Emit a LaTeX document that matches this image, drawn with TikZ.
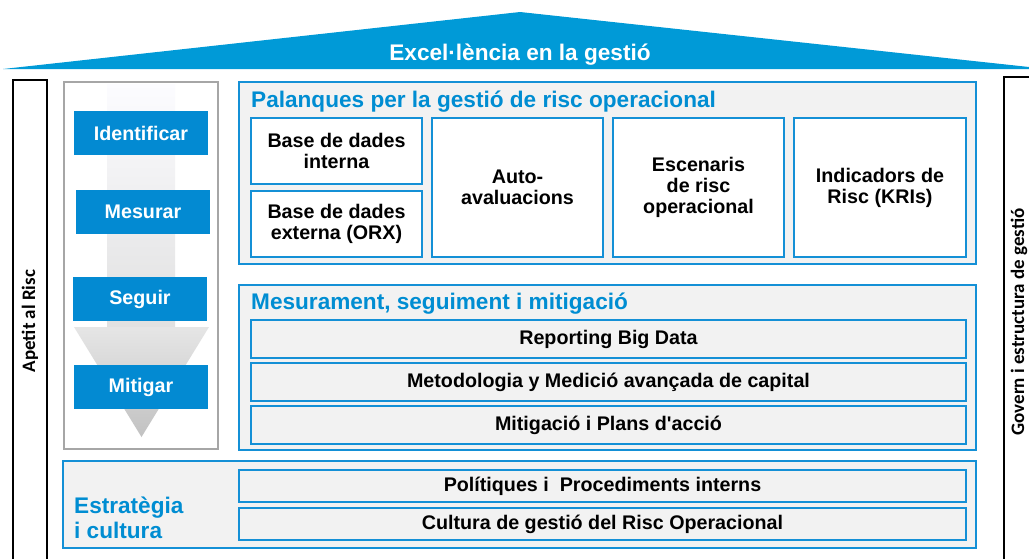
\documentclass[tikz,border=0pt]{standalone}
\usepackage{fontspec}
\setmainfont{Liberation Sans}[Ligatures=TeXOff]
\newfontfamily\pillarfont{Carlito}
\usepackage{tikz}
\usetikzlibrary{positioning}

\definecolor{roofblue}{RGB}{0,154,215}
\definecolor{stageblue}{RGB}{3,138,210}
\definecolor{lineblue}{RGB}{20,144,214}
\definecolor{titleblue}{RGB}{0,141,210}
\definecolor{panelgray}{RGB}{242,242,242}
\definecolor{framegray}{RGB}{166,166,166}

\tikzset{
  boxfont/.style={font=\bfseries\fontsize{19.7}{21}\selectfont},
  titlefont/.style={font=\bfseries\fontsize{22.6}{25}\selectfont},
  stage/.style={boxfont, fill=stageblue, text=white, minimum width=134, minimum height=44, inner sep=0},
  panel/.style={draw=lineblue, line width=1.8pt, fill=panelgray, inner sep=0},
  lever/.style={boxfont, draw=lineblue, line width=1.8pt, fill=white, align=center, inner sep=0},
  bar/.style={boxfont, draw=lineblue, line width=1.8pt, fill=panelgray, inner sep=0},
  paneltitle/.style={titlefont, text=titleblue, inner sep=0},
  pillar/.style={font=\pillarfont\bfseries\fontsize{19}{21}\selectfont, rotate=90, inner sep=0}
}

\begin{document}
\begin{tikzpicture}[x=1pt,y=-1pt]
\useasboundingbox (0,0) rectangle (1029,558);
% roof
\fill[roofblue] (3,69) -- (520,12) -- (1029,67) -- (1029,69) -- cycle;
\node[titlefont, text=white, inner sep=0] (roof) at (520,55) {Excel·lència en la gestió};
% pillars
\draw[line width=1.5pt] (13,560) -- (13,80) -- (47,80) -- (47,560);
\draw[line width=1.5pt] (1031,77) -- (1004,77) -- (1004,560);
\node[pillar] (appetite) at (30,321) {Apetit al Risc};
\node[pillar] (governance) at (1019,322) {Govern i estructura de gestió};
% cycle
\draw[framegray, line width=1.8pt, fill=white] (64,82) rectangle (218,449);
\shade[top color=white!60!blue!3, bottom color=black!12] (107,84) rectangle (175,327);
\shade[top color=black!10, bottom color=black!24] (74,327) -- (209,327) -- (141.5,437) -- cycle;
\node[stage] (identify) at (141,133) {Identificar};
\node[stage] (measure) at (143,212) {Mesurar};
\node[stage] (follow) at (140,299) {Seguir};
\node[stage] (mitigate) at (141,387) {Mitigar};
% levers
\node[panel, minimum width=737, minimum height=182] (levers) at (607.5,173) {};
\node[paneltitle, anchor=base west] (leverstitle) at (251,107) {Palanques per la gestió de risc operacional};
\node[lever, minimum width=171, minimum height=66] (intdb) at (336.5,151) {Base de dades\\interna};
\node[lever, minimum width=171, minimum height=66] (extdb) at (336.5,224) {Base de dades\\externa (ORX)};
\node[lever, minimum width=171, minimum height=139] (selfeval) at (517.5,187.5) {Auto-\\avaluacions};
\node[lever, minimum width=171, minimum height=139] (scenarios) at (698.5,187.5) {Escenaris\\de risc\\operacional};
\node[lever, minimum width=172, minimum height=139] (kri) at (880,187.5) {Indicadors de\\Risc (KRIs)};
% measurement
\node[panel, minimum width=737, minimum height=165] (tracking) at (607.5,367.5) {};
\node[paneltitle, anchor=base west] (trackingtitle) at (251,309) {Mesurament, seguiment i mitigació};
\node[bar, minimum width=715, minimum height=38] (reporting) at (608.5,339) {Reporting Big Data};
\node[bar, minimum width=715, minimum height=38] (capital) at (608.5,382) {Metodologia y Medició avançada de capital};
\node[bar, minimum width=715, minimum height=38] (actions) at (608.5,425) {Mitigació i Plans d'acció};
% strategy
\node[panel, minimum width=913, minimum height=87] (strategy) at (519.5,504.5) {};
\node[paneltitle, align=left, anchor=west] (strategytitle) at (74,518) {Estratègia\\i cultura};
\node[bar, minimum width=727, minimum height=32] (policies) at (602.5,486) {Polítiques i \ Procediments interns};
\node[bar, minimum width=727, minimum height=32] (culture) at (602.5,524) {Cultura de gestió del Risc Operacional};
\end{tikzpicture}
\end{document}
